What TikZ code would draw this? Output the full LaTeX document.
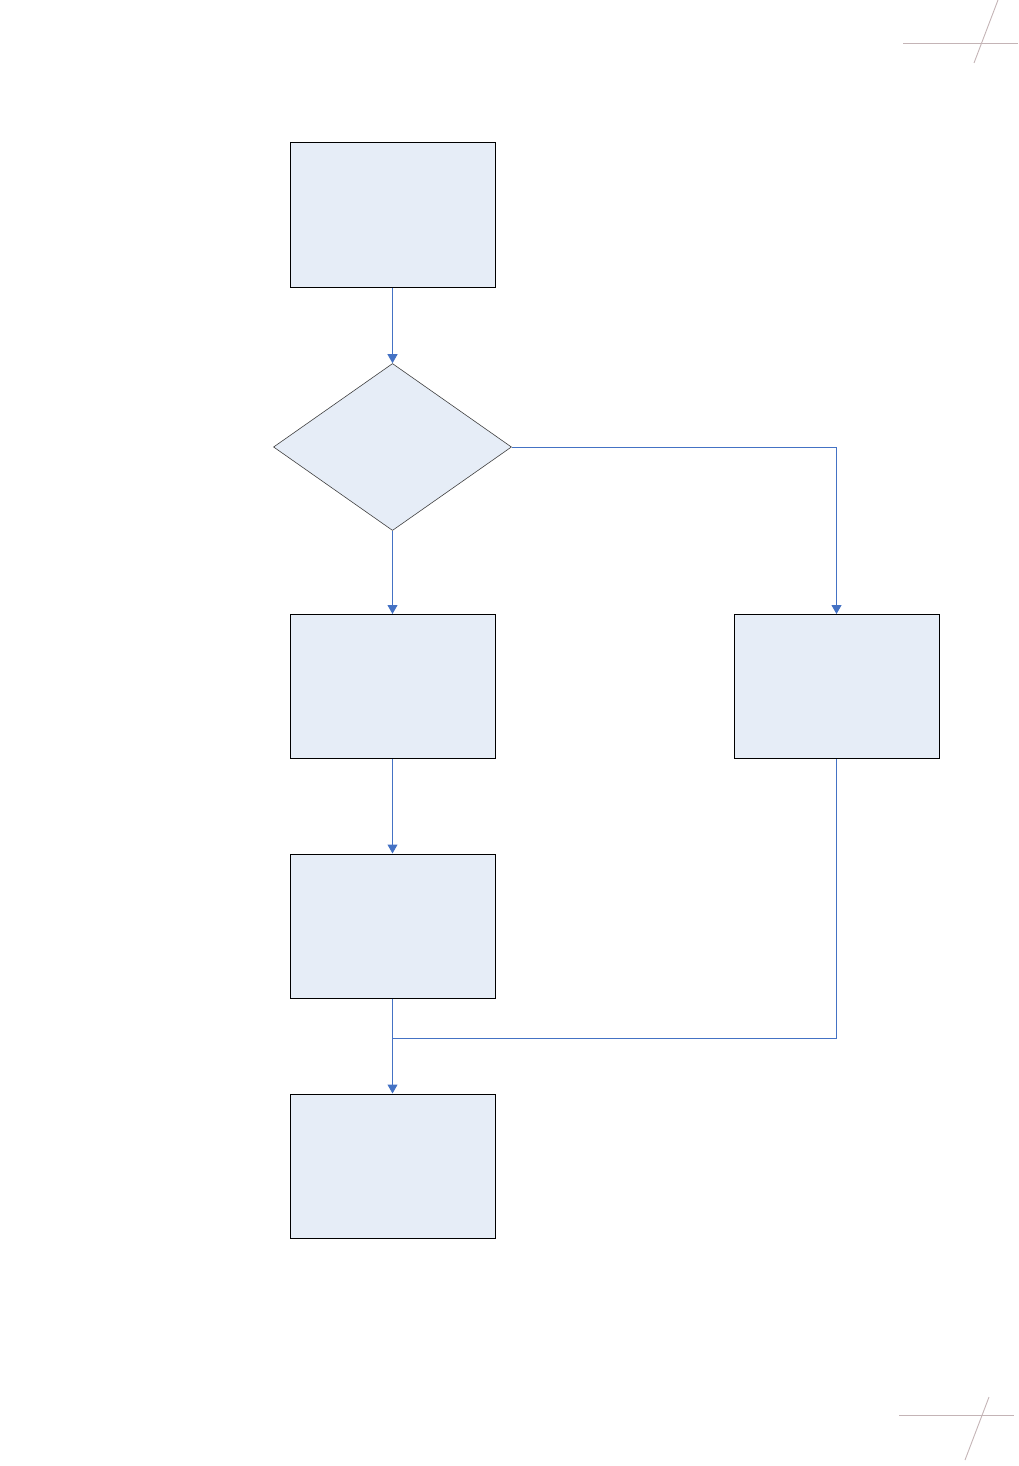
\documentclass[tikz,border=0pt]{standalone}
\usetikzlibrary{arrows.meta,shapes.geometric}
\definecolor{boxfill}{HTML}{E6EDF7}
\definecolor{linkblue}{HTML}{4472C4}
\definecolor{markgrey}{HTML}{C4B4B6}
\begin{document}
\begin{tikzpicture}[x=1pt,y=-1pt,
  procbox/.style={draw=black,line width=1pt,fill=boxfill,minimum width=205pt,minimum height=144pt,inner sep=0pt},
  decbox/.style={draw=black!75,line width=0.6pt,fill=boxfill,diamond,minimum width=238pt,minimum height=167pt,inner sep=0pt,aspect=1.42},
  link/.style={draw=linkblue,line width=1pt,-{Triangle[width=10pt,length=9pt]}},
  plainlink/.style={draw=linkblue,line width=1pt},
  crop/.style={draw=markgrey,line width=0.9pt}]
\useasboundingbox (0,0) rectangle (1018,1466);
\node[procbox] (b1) at (392.5,215) {};
\node[decbox] (d) at (392.5,447) {};
\node[procbox] (b2) at (392.5,686.5) {};
\node[procbox] (b3) at (836.5,686.5) {};
\node[procbox] (b4) at (392.5,926) {};
\node[procbox] (b5) at (392.5,1166) {};
\coordinate (j) at (392.5,1038);
\draw[link] (b1.south) -- (d.north);
\draw[link] (d.south) -- (b2.north);
\draw[link] (d.east) -| (b3.north);
\draw[link] (b2.south) -- (b4.north);
\draw[link] (b4.south) -- (b5.north);
\draw[plainlink] (b3.south) |- (j);
% crop marks
\coordinate (t1) at (903,43); \coordinate (t2) at (1018,43);
\coordinate (t3) at (998,0); \coordinate (t4) at (974,63);
\coordinate (u1) at (899,1415); \coordinate (u2) at (1014,1415);
\coordinate (u3) at (989,1397); \coordinate (u4) at (965,1460);
\draw[crop] (t1) -- (t2);
\draw[crop] (t3) -- (t4);
\draw[crop] (u1) -- (u2);
\draw[crop] (u3) -- (u4);
\end{tikzpicture}
\end{document}
